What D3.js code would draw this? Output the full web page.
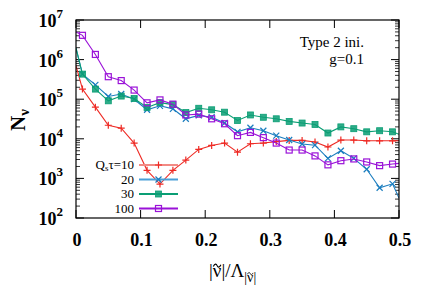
<!DOCTYPE html>
<html><head><meta charset="utf-8">
<script src="https://cdn.jsdelivr.net/npm/d3@7"></script>
<style>body{margin:0;background:#fff}svg{display:block}text{font-family:"Liberation Serif","DejaVu Serif",serif}</style>
</head><body><svg id="c" width="436" height="305"></svg>
<script>
const xs = [0,0.01,0.03,0.05,0.07,0.09,0.11,0.13,0.15,0.17,0.19,0.21,0.23,0.25,0.27,0.29,0.31,0.33,0.35,0.37,0.39,0.41,0.43,0.45,0.47,0.49,0.5];
const n10  = [7.0e5,1.8e5,6.3e4,2.2e4,1.85e4,7.8e3,1.6e3,7.2e2,1.6e3,2.9e3,5.4e3,6.8e3,7.8e3,4.6e3,7.5e3,7.8e3,8.5e3,9.1e3,9.1e3,8.3e3,6.2e3,9.3e3,9.3e3,8.9e3,8.9e3,8.9e3,8.9e3];
const n20  = [1.95e6,4.3e5,2.3e5,1.17e5,1.35e5,1.0e5,5.4e4,6.8e4,5.7e4,3.2e4,3.9e4,3.5e4,2.5e4,1.5e4,1.9e4,1.6e4,1.2e4,9.3e3,7.4e3,6.9e3,3.2e3,5.0e3,3.2e3,1.7e3,5.8e2,7.3e2,3.2e2];
const n30  = [1.95e6,4.3e5,1.8e5,9.1e4,1.2e5,1.04e5,6.2e4,8.2e4,7.3e4,4.6e4,5.9e4,5.4e4,4.7e4,2.9e4,4.0e4,3.5e4,3.2e4,2.75e4,2.5e4,2.3e4,1.4e4,2.0e4,1.8e4,1.5e4,1.6e4,1.5e4,1.3e4];
const n100 = [5.0e6,4.1e6,1.35e6,3.7e5,2.95e5,1.7e5,8.1e4,9.6e4,7.5e4,4.0e4,4.2e4,3.2e4,2.4e4,1.2e4,1.45e4,1.07e4,7.8e3,5.2e3,5.2e3,3.7e3,2.2e3,2.8e3,3.1e3,2.6e3,2.1e3,2.3e3,2.4e3];
const seriesLabels = ["10","20","30","100"];
const xTicks = [0,0.1,0.2,0.3,0.4,0.5];
const yTicks = [1e2,1e3,1e4,1e5,1e6,1e7];

const svg = d3.select("#c");
const L=76,R=399,T=20,B=218;
const x = d3.scaleLinear().domain([0,0.5]).range([L,R]);
const y = d3.scaleLog().domain([1e2,1e7]).range([B,T]);

const series = [
  {vals:n10, color:"#ee2a24", legColor:"#f28a84", marker:"plus"},
  {vals:n20, color:"#1a7dbf", legColor:"#4aa0d8", marker:"cross"},
  {vals:n30, color:"#0a9e74", legColor:"#0a9e74", marker:"fsquare"},
  {vals:n100,color:"#9a12d8", legColor:"#9a12d8", marker:"osquare"}
];

svg.append("defs").append("clipPath").attr("id","clip")
  .append("rect").attr("x",L).attr("y",T).attr("width",R-L).attr("height",B-T);

const minor=[];
for(let e=2;e<7;e++) for(let k=2;k<=9;k++) minor.push(k*Math.pow(10,e));
const g=svg.append("g");
minor.forEach(v=>{
  g.append("line").attr("x1",L).attr("x2",L+4).attr("y1",y(v)).attr("y2",y(v)).attr("stroke","#000").attr("stroke-width",0.8);
  g.append("line").attr("x1",R).attr("x2",R-4).attr("y1",y(v)).attr("y2",y(v)).attr("stroke","#000").attr("stroke-width",0.8);
});
yTicks.forEach(v=>{
  g.append("line").attr("x1",L).attr("x2",L+8).attr("y1",y(v)).attr("y2",y(v)).attr("stroke","#000");
  g.append("line").attr("x1",R).attr("x2",R-8).attr("y1",y(v)).attr("y2",y(v)).attr("stroke","#000");
  const t=g.append("text").attr("x",63).attr("y",y(v)+7).attr("text-anchor","end")
    .attr("font-weight","bold").attr("font-size",18);
  t.append("tspan").text("10");
  t.append("tspan").attr("dy",-9).attr("font-size",13).text(Math.round(Math.log10(v)));
});
xTicks.forEach(v=>{
  g.append("line").attr("x1",x(v)).attr("x2",x(v)).attr("y1",B).attr("y2",B-8).attr("stroke","#000");
  g.append("line").attr("x1",x(v)).attr("x2",x(v)).attr("y1",T).attr("y2",T+8).attr("stroke","#000");
  g.append("text").attr("x",x(v)+1).attr("y",246).attr("text-anchor","middle")
    .attr("font-weight","bold").attr("font-size",18).text(v===0?"0":d3.format(".1f")(v));
});

const plot=svg.append("g").attr("clip-path","url(#clip)");
const line=d3.line().x((d,i)=>x(xs[i])).y(d=>y(d));
function drawMarker(sel,type,color,cx,cy){
  if(type==="plus"){
    sel.append("path").attr("d",`M${cx-3.5},${cy}H${cx+3.5}M${cx},${cy-3.5}V${cy+3.5}`).attr("stroke",color).attr("stroke-width",1.2).attr("fill","none");
  } else if(type==="cross"){
    sel.append("path").attr("d",`M${cx-3},${cy-3}L${cx+3},${cy+3}M${cx-3},${cy+3}L${cx+3},${cy-3}`).attr("stroke",color).attr("stroke-width",1.2).attr("fill","none");
  } else if(type==="fsquare"){
    sel.append("rect").attr("x",cx-3).attr("y",cy-3).attr("width",6).attr("height",6).attr("fill",color).attr("stroke",color).attr("stroke-width",0.8).attr("fill-opacity",0.85);
  } else {
    sel.append("rect").attr("x",cx-3).attr("y",cy-3).attr("width",6).attr("height",6).attr("fill","none").attr("stroke",color).attr("stroke-width",1.2);
  }
}
series.forEach(s=>{
  plot.append("path").attr("d",line(s.vals)).attr("fill","none").attr("stroke",s.color).attr("stroke-width",1.1);
  s.vals.forEach((v,i)=>{
    if(xs[i]>0 && xs[i]<0.5) drawMarker(plot,s.marker,s.color,x(xs[i]),y(v));
  });
});

svg.append("rect").attr("x",L).attr("y",T).attr("width",R-L).attr("height",B-T).attr("fill","none").attr("stroke","#000").attr("stroke-width",1.2);

series.forEach((s,i)=>{
  const ly=165+i*14.5;
  svg.append("line").attr("x1",139).attr("x2",178).attr("y1",ly).attr("y2",ly).attr("stroke",s.legColor).attr("stroke-width",1.8);
  drawMarker(svg,s.marker,s.color,158.5,ly);
  const t=svg.append("text").attr("x",134).attr("y",ly+4.3).attr("text-anchor","end").attr("font-size",13);
  if(i===0){
    t.append("tspan").text("Q");
    t.append("tspan").attr("font-size",9).attr("dy",2).text("s");
    t.append("tspan").attr("dy",-2).text("τ=" + seriesLabels[i]);
  } else t.text(seriesLabels[i]);
});

svg.append("text").attr("x",364).attr("y",47).attr("text-anchor","end").attr("font-size",15).text("Type 2 ini.");
svg.append("text").attr("x",364).attr("y",64).attr("text-anchor","end").attr("font-size",15).text("g=0.1");

const yl=svg.append("text").attr("transform","translate(25,131) rotate(-90)").attr("font-weight","bold").attr("font-size",21);
yl.append("tspan").text("N");
yl.append("tspan").attr("font-size",15).attr("dy",4).text("ν");

const xl=svg.append("text").attr("x",209).attr("y",277).attr("font-size",19);
xl.append("tspan").text("|ν|/Λ");
xl.append("tspan").attr("font-size",14).attr("dy",5).text("|ν|");
const node=xl.node();
[[1,19,277],[6,14,282]].forEach(([ci,fs,by])=>{
  const p=node.getStartPositionOfChar(ci), w=node.getSubStringLength(ci,1);
  const cx=p.x+w/2, cy=by-fs*0.6, hw=fs*0.2, hh=fs*0.05;
  svg.append("path")
    .attr("d",`M${cx-hw},${cy+hh} C${cx-hw*0.6},${cy-hh*2.5} ${cx-hw*0.2},${cy-hh*2} ${cx},${cy} S${cx+hw*0.6},${cy+hh*2.5} ${cx+hw},${cy-hh}`)
    .attr("fill","none").attr("stroke","#000").attr("stroke-width",fs*0.06);
});
</script></body></html>
